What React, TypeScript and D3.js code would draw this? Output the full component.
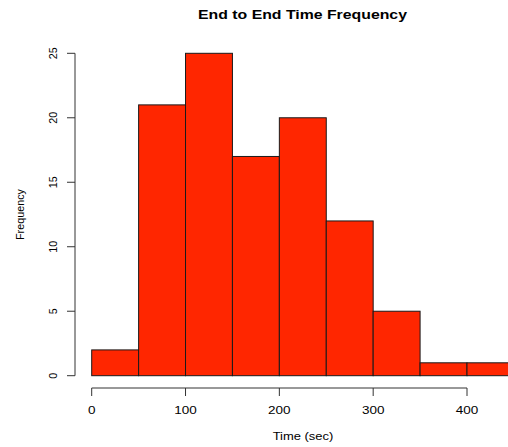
import React from "react";
import * as d3 from "d3";

const binStarts = [0, 50, 100, 150, 200, 250, 300, 350, 400];
const binWidth = 50;
const counts = [2, 21, 25, 17, 20, 12, 5, 1, 1];
const xTicks = [0, 100, 200, 300, 400];
const yTicks = [0, 5, 10, 15, 20, 25];

export default function App() {
  const W = 508, H = 447;
  const x = d3.scaleLinear().domain([0, 400]).range([91.7, 467]);
  const y = d3.scaleLinear().domain([0, 25]).range([375.7, 53.3]);
  const font = "'Liberation Sans', Arial, Helvetica, sans-serif";
  const axisY = 388;
  const axisX = 75;
  return (
    <svg width={W} height={H} style={{ position: "absolute", left: 0, top: 0 }} fontFamily={font}>
      <rect width={W} height={H} fill="#fff" />
      <text transform="translate(302.5,18.5) scale(1.19,1)" textAnchor="middle" fontWeight="bold" fontSize={13.3} fill="#000">
        End to End Time Frequency
      </text>
      {counts.map((c, i) => {
        const x0 = x(binStarts[i]);
        const x1 = x(binStarts[i] + binWidth);
        return (
          <rect key={i} x={x0} y={y(c)} width={x1 - x0} height={y(0) - y(c)}
            fill="#ff2600" stroke="#1a1a1a" strokeWidth={1} />
        );
      })}
      {/* x axis */}
      <line x1={x(0)} x2={x(400)} y1={axisY} y2={axisY} stroke="#333" strokeWidth={1} />
      {xTicks.map((t) => (
        <g key={t}>
          <line x1={x(t)} x2={x(t)} y1={axisY} y2={axisY + 8} stroke="#333" strokeWidth={1} />
          <text transform={`translate(${x(t)},414) scale(1.25,1)`} textAnchor="middle" fontSize={10.8} fill="#000">{t}</text>
        </g>
      ))}
      <text transform="translate(303,440) scale(1.2,1)" textAnchor="middle" fontSize={10.8} fill="#000">Time (sec)</text>
      {/* y axis */}
      <line x1={axisX} x2={axisX} y1={y(0)} y2={y(25)} stroke="#333" strokeWidth={1} />
      {yTicks.map((t) => (
        <g key={t}>
          <line x1={axisX - 8} x2={axisX} y1={y(t)} y2={y(t)} stroke="#333" strokeWidth={1} />
          <text transform={`translate(57,${y(t)}) rotate(-90)`} textAnchor="middle" fontSize={10.8} fill="#000">{t}</text>
        </g>
      ))}
      <text transform={`translate(23.5,${y(12.5)}) rotate(-90)`} textAnchor="middle" fontSize={10.8} fill="#000">Frequency</text>
    </svg>
  );
}
